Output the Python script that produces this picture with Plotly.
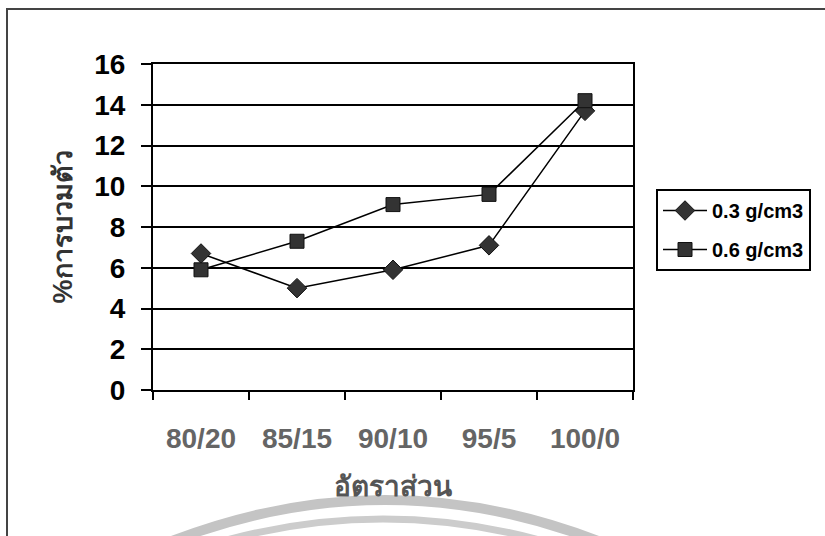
import plotly.graph_objects as go

# Mixing ratios and swelling percentages for two densities
ratios = ["80/20", "85/15", "90/10", "95/5", "100/0"]
swell_03 = [6.7, 5.0, 5.9, 7.1, 13.7]
swell_06 = [5.9, 7.3, 9.1, 9.6, 14.2]
series_names = ["0.3 g/cm3", "0.6 g/cm3"]

W, H = 825, 536
L, R, T, B = 153, 633, 64, 390  # plot area in pixels


def px(x, y):
    """Pixel position -> paper coordinates."""
    return (x - L) / (R - L), (B - y) / (B - T)


def path_q(p0, c, p1):
    a, b, d = px(*p0), px(*c), px(*p1)
    return f"M{a[0]},{a[1]} Q{b[0]},{b[1]} {d[0]},{d[1]}"


fig = go.Figure()
fig.add_trace(go.Scatter(
    x=ratios, y=swell_03, name=series_names[0], mode="lines+markers",
    line=dict(color="black", width=1.5),
    marker=dict(symbol="diamond", size=15, color="#333333",
                line=dict(color="#111111", width=1)),
    legendgroup="a",
))
fig.add_trace(go.Scatter(
    x=ratios, y=swell_06, name=series_names[1], mode="lines+markers",
    line=dict(color="black", width=1.5),
    marker=dict(symbol="square", size=14, color="#333333",
                line=dict(color="#111111", width=1)),
    legendgroup="b",
))

shapes = []
# faint arcs of the page watermark
shapes.append(dict(type="path", xref="paper", yref="paper", layer="below",
                   path=path_q((145, 552), (385, 448), (625, 552)),
                   line=dict(color="#c4c4c4", width=10)))
shapes.append(dict(type="path", xref="paper", yref="paper", layer="below",
                   path=path_q((187, 552), (383, 486), (579, 552)),
                   line=dict(color="#cccccc", width=7)))
# outer chart frame
x0, y0 = px(7, 9)
x1, y1 = px(840, 560)
shapes.append(dict(type="rect", xref="paper", yref="paper",
                   x0=x0, y0=y0, x1=x1, y1=y1,
                   line=dict(color="#444444", width=2)))

fig.update_layout(
    width=W, height=H,
    margin=dict(l=L, r=W - R, t=T, b=H - B, autoexpand=False),
    paper_bgcolor="white", plot_bgcolor="white",
    font=dict(family="Liberation Sans, Arial, sans-serif", color="black"),
    showlegend=True,
    legend=dict(
        x=px(656, 0)[0], y=px(0, 189)[1], xanchor="left", yanchor="top",
        bordercolor="black", borderwidth=2, bgcolor="white",
        font=dict(size=20, family="Liberation Sans, Arial, sans-serif",
                  color="black", weight="bold"),
        tracegroupgap=10, traceorder="grouped", itemwidth=44,
    ),
    xaxis=dict(
        type="category", range=[-0.5, 4.5], tickson="boundaries",
        showline=True, linecolor="black", linewidth=2, mirror=True,
        ticks="outside", ticklen=8, tickwidth=2, tickcolor="black",
        showgrid=False, zeroline=False, ticklabelstandoff=22,
        tickfont=dict(size=28, color="#656565", weight="bold"),
        title=dict(text="อัตราส่วน", standoff=24,
                   font=dict(size=28, color="#555555", weight="bold")),
    ),
    yaxis=dict(
        range=[0, 16], dtick=2, tick0=0,
        showline=True, linecolor="black", linewidth=2, mirror=True,
        ticks="outside", ticklen=10, tickwidth=2, tickcolor="black",
        showgrid=True, gridcolor="black", gridwidth=2, zeroline=False,
        ticklabelstandoff=10,
        tickfont=dict(size=28, color="black", weight="bold"),
        title=dict(text="%การบวมตัว", standoff=14,
                   font=dict(size=27, color="#333333", weight="bold")),
    ),
    shapes=shapes,
)

fig.write_html("out.html")
